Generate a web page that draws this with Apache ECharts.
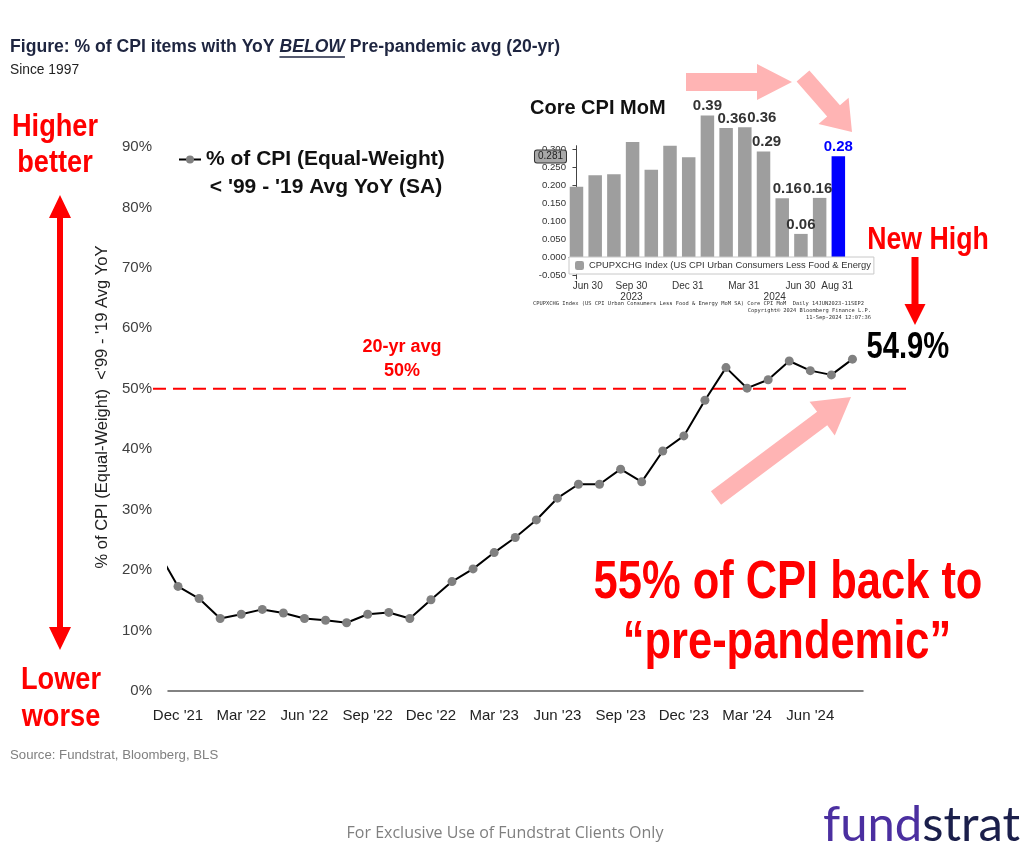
<!DOCTYPE html>
<html><head><meta charset="utf-8">
<script src="https://cdn.jsdelivr.net/npm/echarts@6/dist/echarts.min.js"></script>
<style>html,body{margin:0;padding:0;background:#fff}#c{width:1024px;height:847px}</style>
</head><body><div id="c"></div>
<script>
// ---------------- DATA ----------------
const months = ["Nov '21","Dec '21","Jan '22","Feb '22","Mar '22","Apr '22","May '22","Jun '22","Jul '22","Aug '22","Sep '22","Oct '22","Nov '22","Dec '22","Jan '23","Feb '23","Mar '23","Apr '23","May '23","Jun '23","Jul '23","Aug '23","Sep '23","Oct '23","Nov '23","Dec '23","Jan '24","Feb '24","Mar '24","Apr '24","May '24","Jun '24","Jul '24","Aug '24"];
const shareBelowAvg = [23.4,17.3,15.3,12.0,12.7,13.5,12.9,12.0,11.7,11.3,12.7,13.0,12.0,15.1,18.1,20.2,22.9,25.4,28.3,31.9,34.2,34.2,36.7,34.6,39.7,42.2,48.1,53.5,50.1,51.5,54.6,53.0,52.3,54.9];
const xTickMonths = ["Dec '21","Mar '22","Jun '22","Sep '22","Dec '22","Mar '23","Jun '23","Sep '23","Dec '23","Mar '24","Jun '24"];
const yTicks = [0,10,20,30,40,50,60,70,80,90];
const avgLevel = 50;
const seriesName = "% of CPI (Equal-Weight)";

const insetMonths = ["Jun '23","Jul '23","Aug '23","Sep '23","Oct '23","Nov '23","Dec '23","Jan '24","Feb '24","Mar '24","Apr '24","May '24","Jun '24","Jul '24","Aug '24"];
const coreCpiMoM = [0.196,0.228,0.231,0.320,0.243,0.310,0.278,0.394,0.359,0.361,0.294,0.164,0.065,0.165,0.281];
const coreCpiLabels = ["","","","","","","","0.39","0.36","0.36","0.29","0.16","0.06","0.16","0.28"];
const insetTickPos = [0.6,2.94,5.95,8.94,11.98,13.94];
const insetTickLabels = ["Jun 30","Sep 30","Dec 31","Mar 31","Jun 30","Aug 31"];
const insetYearPos = [2.94,10.6];
const insetYearLabels = ["2023","2024"];
const insetYTicks = [-0.05,0,0.05,0.10,0.15,0.20,0.25,0.30];
const lastPrint = 0.281;
const insetLegendName = "CPUPXCHG Index (US CPI Urban Consumers Less Food & Energy MoM SA)";

// ---------------- HELPERS ----------------
const SANS = "'Liberation Sans',Arial,sans-serif";
const RED = '#ff0000', PINK = '#ffb4b4';
const mctx = document.createElement('canvas').getContext('2d');
function measure(font, s){ mctx.font = font; return mctx.measureText(s).width; }
function arrowPts(x1,y1,x2,y2,sw,hw,hl){
  const dx=x2-x1, dy=y2-y1, L=Math.hypot(dx,dy), ux=dx/L, uy=dy/L, nx=-uy, ny=ux;
  const bx=x2-ux*hl, by=y2-uy*hl;
  return [[x1+nx*sw/2,y1+ny*sw/2],[bx+nx*sw/2,by+ny*sw/2],[bx+nx*hw/2,by+ny*hw/2],[x2,y2],
          [bx-nx*hw/2,by-ny*hw/2],[bx-nx*sw/2,by-ny*sw/2],[x1-nx*sw/2,y1-ny*sw/2]];
}
function txt(x,y,text,font,fill,align,sx){
  return {type:'text',x:x,y:y,z:50,silent:true,scaleX:sx||1,
    style:{text:text,font:font,fill:fill,align:align||'left',verticalAlign:'middle',
           textAlign:align||'left',textVerticalAlign:'middle'}};
}

// title pieces
const titleFont = "bold 17.6px " + SANS, titleItal = "italic bold 17.6px " + SANS;
const tA = "Figure: % of CPI items with YoY ", tB = "BELOW", tC = " Pre-pandemic avg (20-yr)";
const wA = measure(titleFont, tA), wB = measure(titleItal, tB);
const TITLE_C = '#1e2540';

const xTickVals = xTickMonths.map(m => months.indexOf(m) - 1);
const lastIdx = shareBelowAvg.length - 1;
const mainData = shareBelowAvg.map((v,i) => [i-1, v]);

const labelShift = {8:6, 9:17, 10:3, 11:5, 13:-2};
const barData = coreCpiMoM.map((v,i) => {
  const isLast = i === coreCpiMoM.length-1;
  return {name: insetMonths[i], value:[i, v],
    itemStyle: isLast ? {color:'#0000ff'} : undefined,
    label: {offset:[labelShift[i]||0, 0], color: isLast ? '#0000ff' : '#333'}};
});

function lookup(vals, labels){ return v => { for (let i=0;i<vals.length;i++) if (Math.abs(vals[i]-v)<1e-6) return labels[i]; return ''; }; }

const graphics = [
    // title
    txt(10,47,tA,titleFont,TITLE_C),
    txt(10+wA,47,tB,titleItal,TITLE_C),
    txt(10+wA+wB,47,tC,titleFont,TITLE_C),
    {type:'line', z:50, silent:true, shape:{x1:10+wA, y1:57, x2:10+wA+wB, y2:57}, style:{stroke:TITLE_C, lineWidth:1.3}},
    txt(10,70,"Since 1997","15px "+SANS,'#222',"left",0.92),
    // left annotations
    txt(55,127,"Higher","bold 32px "+SANS,RED,'center',0.85),
    txt(55,163,"better","bold 32px "+SANS,RED,'center',0.85),
    txt(61,680,"Lower","bold 32px "+SANS,RED,'center',0.85),
    txt(61,717,"worse","bold 32px "+SANS,RED,'center',0.85),
    {type:'polygon', z:40, silent:true, shape:{points:[[60,195],[71,218],[63,218],[63,627],[71,627],[60,650],[49,627],[57,627],[57,218],[49,218]]}, style:{fill:RED}},
    // legend second line
    txt(326,187,"< '99 - '19 Avg YoY (SA)","bold 21px "+SANS,'#111','center'),
    // avg label
    txt(402,347,"20-yr avg","bold 18px "+SANS,RED,'center'),
    txt(402,371,"50%","bold 18px "+SANS,RED,'center'),
    // new high
    txt(928,240,"New High","bold 31px "+SANS,RED,'center',0.86),
    {type:'polygon', z:40, silent:true, shape:{points:arrowPts(915,257,915,325,7,21,21)}, style:{fill:RED}},
    // pink arrows
    {type:'polygon', z:45, silent:true, shape:{points:arrowPts(686,82,792,82,18,36,35)}, style:{fill:PINK}},
    {type:'polygon', z:45, silent:true, shape:{points:arrowPts(803,76,852,132,17,40,28)}, style:{fill:PINK}},
    {type:'polygon', z:45, silent:true, shape:{points:arrowPts(716,498,851,397,17,42,36)}, style:{fill:PINK}},
    // big red text
    txt(788,583,"55% of CPI back to","bold 53px "+SANS,RED,'center',0.82),
    txt(787,643,"\u201Cpre-pandemic\u201D","bold 53px "+SANS,RED,'center',0.82),
    // inset title & footnotes
    txt(530,108,"Core CPI MoM","bold 20px "+SANS,'#111'),
    txt(533,304,"CPUPXCHG Index (US CPI Urban Consumers Less Food & Energy MoM SA) Core CPI MoM  Daily 14JUN2023-11SEP2","5.4px 'DejaVu Sans Mono',monospace",'#333'),
    txt(871,311,"Copyright\u00A9 2024 Bloomberg Finance L.P.","5.4px 'DejaVu Sans Mono',monospace",'#333','right'),
    txt(871,318,"11-Sep-2024 12:07:36","5.4px 'DejaVu Sans Mono',monospace",'#333','right'),
    // source & footer
    txt(10,755,"Source: Fundstrat, Bloomberg, BLS","13.2px "+SANS,'#808080'),
    txt(505,833,"For Exclusive Use of Fundstrat Clients Only","16px 'Open Sans',sans-serif",'#7f7f7f','center'),
    {type:'text', x:823, y:825, z:50, silent:true, style:{text:'{f|fund}{s|strat}', font:"49px Lato,sans-serif",
      verticalAlign:'middle', textVerticalAlign:'middle',
      rich:{f:{fill:'#4b2fa0', color:'#4b2fa0', fontSize:49, fontFamily:'Lato'}, s:{fill:'#1b1f4b', color:'#1b1f4b', fontSize:49, fontFamily:'Lato'}}}}
];

const chart = echarts.init(document.getElementById('c'), null, {renderer:'canvas'});
const option = {
  animation:false,
  backgroundColor:'#fff',
  legend:[
    {data:[seriesName], left:178, top:149, padding:0, itemWidth:22, itemHeight:10,
     selectedMode:false, textStyle:{fontSize:21, fontWeight:'bold', fontFamily:SANS, color:'#111'}},
    {data:[insetLegendName], left:569, top:257, padding:[4,3,4,6], itemWidth:9, itemHeight:9,
     selectedMode:false, backgroundColor:'#fff', borderColor:'#c8c8c8', borderWidth:1,
     textStyle:{fontSize:9.4, fontFamily:SANS, color:'#333', width:284, overflow:'truncate', ellipsis:''}}
  ],
  grid:[
    {left:168, right:161, top:147, bottom:156},
    {left:569, top:145.7, width:303, height:133.2},
    {left:153, right:112, top:147, bottom:156}
  ],
  xAxis:[
    {type:'value', gridIndex:0, min:-0.475, max:32.5,
     axisLine:{show:true, lineStyle:{color:'#595959', width:1.5}}, axisTick:{show:false}, splitLine:{show:false},
     axisLabel:{customValues:xTickVals, formatter: v => months[v+1], fontSize:15, fontFamily:SANS, color:'#222', margin:17}},
    {type:'value', gridIndex:1, min:-0.4, max:15.8,
     axisLine:{show:true, lineStyle:{color:'#444'}}, axisTick:{show:false}, splitLine:{show:false},
     axisLabel:{customValues:insetTickPos, formatter: lookup(insetTickPos, insetTickLabels), fontSize:10, fontFamily:SANS, color:'#333', margin:2}},
    {type:'value', gridIndex:2, min:0, max:1, show:false},
    {type:'value', gridIndex:1, min:-0.4, max:15.8, position:'bottom', offset:11,
     axisLine:{show:false}, axisTick:{show:false}, splitLine:{show:false},
     axisLabel:{customValues:insetYearPos, formatter: lookup(insetYearPos, insetYearLabels), fontSize:10, fontFamily:SANS, color:'#333', margin:2}}
  ],
  yAxis:[
    {type:'value', gridIndex:0, min:0, max:90, interval:10,
     axisLine:{show:false}, axisTick:{show:false}, splitLine:{show:false},
     axisLabel:{customValues:yTicks, formatter:'{value}%', fontSize:15, fontFamily:SANS, color:'#404040', margin:16},
     name:"% of CPI (Equal-Weight)  <'99 - '19 Avg YoY", nameLocation:'middle', nameRotate:90, nameGap:54,
     nameTextStyle:{fontSize:16.5, fontFamily:SANS, color:'#222', padding:[0,0,0,24]}},
    {type:'value', gridIndex:1, min:-0.06, max:0.31,
     axisLine:{show:true, lineStyle:{color:'#444'}}, splitLine:{show:false},
     axisTick:{show:true, customValues:insetYTicks, length:4, lineStyle:{color:'#444'}},
     axisLabel:{customValues:insetYTicks, formatter: v => v.toFixed(3), fontSize:9.6, fontFamily:SANS, color:'#333', margin:3}},
    {type:'value', gridIndex:2, min:0, max:90, show:false}
  ],
  series:[
    {name:seriesName, type:'line', xAxisIndex:0, yAxisIndex:0, data:mainData, clip:true, z:5,
     symbol:'circle', symbolSize:9, itemStyle:{color:'#808080'}, lineStyle:{color:'#000', width:2}},
    {name:'avg', type:'line', xAxisIndex:2, yAxisIndex:2, silent:true, symbol:'none', z:3,
     data:[[0,avgLevel],[1,avgLevel]], lineStyle:{color:RED, width:2, type:[13,7]}},
    {name:insetLegendName, type:'bar', xAxisIndex:1, yAxisIndex:1, data:barData, barWidth:13.5, clip:false,
     itemStyle:{color:'#9e9e9e'},
     label:{show:true, position:'top', distance:2, fontSize:15, fontWeight:'bold', fontFamily:SANS,
            formatter: p => coreCpiLabels[p.dataIndex]},
     markLine:{silent:true, symbol:'none', lineStyle:{color:'rgba(0,0,0,0)', width:0},
       data:[{yAxis:lastPrint}],
       label:{show:true, position:'start', distance:3, formatter: lastPrint.toFixed(3), fontSize:10, fontFamily:SANS, color:'#222',
              backgroundColor:'#a8a8a8', borderColor:'#333', borderWidth:1, borderRadius:2, padding:[1,3]}}}
  ],
  graphic: graphics
};
chart.setOption(option);

// "54.9%" call-out attached to the last data point via the chart's own scales
const lastPt = chart.convertToPixel({xAxisIndex:0, yAxisIndex:0}, mainData[lastIdx]);
graphics.push(txt(lastPt[0]+14, lastPt[1]-11, shareBelowAvg[lastIdx].toFixed(1)+'%', "bold 36px "+SANS, '#000', 'left', 0.81));
chart.setOption({graphic: graphics});
</script></body></html>
